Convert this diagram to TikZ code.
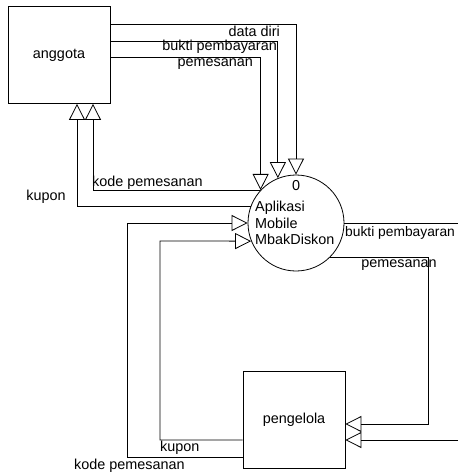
\documentclass[tikz,border=0pt]{standalone}
\usepackage{fontspec}
\setmainfont{Liberation Sans}
\usetikzlibrary{arrows.meta}

\begin{document}
\begin{tikzpicture}[
    x=1pt, y=-1pt,
    font=\fontsize{14.4}{16.5}\selectfont,
    >={Triangle[open,length=16pt,width=16pt]},
    ent/.style={draw, line width=0.8pt, minimum width=102pt, minimum height=97pt},
    proc/.style={draw, circle, line width=0.8pt, minimum size=96pt, inner sep=0pt},
    lab/.style={inner sep=0pt},
    flow/.style={->, line width=0.8pt},
  ]
  \useasboundingbox (0,0) rectangle (458,476);
  \clip (0,0) rectangle (458,476);

  %% ---- entities and process ----------------------------------------
  \node[ent]  (anggota)   at ( 59,55)  {anggota};
  \node[ent]  (pengelola) at (294,420) {pengelola};
  \node[proc] (app)       at (296,223) {};
  \node[lab] (appno) at (296,186) {0};
  \node[lab,align=left,anchor=north west] (appname) at (255,201)
  {Aplikasi\\Mobile\\MbakDiskon};

  \coordinate (edgeA) at (458,223);
  \coordinate (edgeB) at (458,440);

  %% ---- anggota -> aplikasi -----------------------------------------
  \draw[flow] (anggota.east |- 0,24) -| (app);
  \draw[flow] (anggota.east |- 0,41) -| (app.112);
  \draw[flow] (anggota.east |- 0,57) -| (app.137);
  \node[lab,anchor=east] at (280,31) {data diri};
  \node[lab,anchor=east] at (277,47) {bukti pembayaran};
  \node[lab,anchor=east] at (253,64) {pemesanan};

  %% ---- aplikasi -> anggota -----------------------------------------
  \draw[flow] (app.138) -| ([xshift=34pt]anggota.south);
  \draw[flow] (app.160) -| ([xshift=18pt]anggota.south);
  \node[lab,anchor=west] at (92,183) {kode pemesanan};
  \node[lab] at (46,197) {kupon};

  %% ---- pengelola -> aplikasi ---------------------------------------
  \draw[flow] (pengelola.west |- 0,457) -| (127,223) -- (app.west);
  \draw[flow] (pengelola.west |- 0,440) -| (160,241) -- (app.202);
  \node[lab,anchor=west] at (160,448) {kupon};
  \node[lab,anchor=west] at (74,466) {kode pemesanan};

  %% ---- aplikasi -> pengelola ---------------------------------------
  \draw[flow] (app.-45) -| (428,424) -- (pengelola.east |- 0,424);
  \node[lab] at (399,265) {pemesanan};
  \draw[line width=0.8pt] (app.east) -- (edgeA);
  \draw[flow] (edgeB) -- (pengelola.east |- edgeB);
  \node[lab,anchor=west,font=\fontsize{13.8}{16.5}\selectfont] at (345,233) {bukti pembayaran};

\end{tikzpicture}
\end{document}
